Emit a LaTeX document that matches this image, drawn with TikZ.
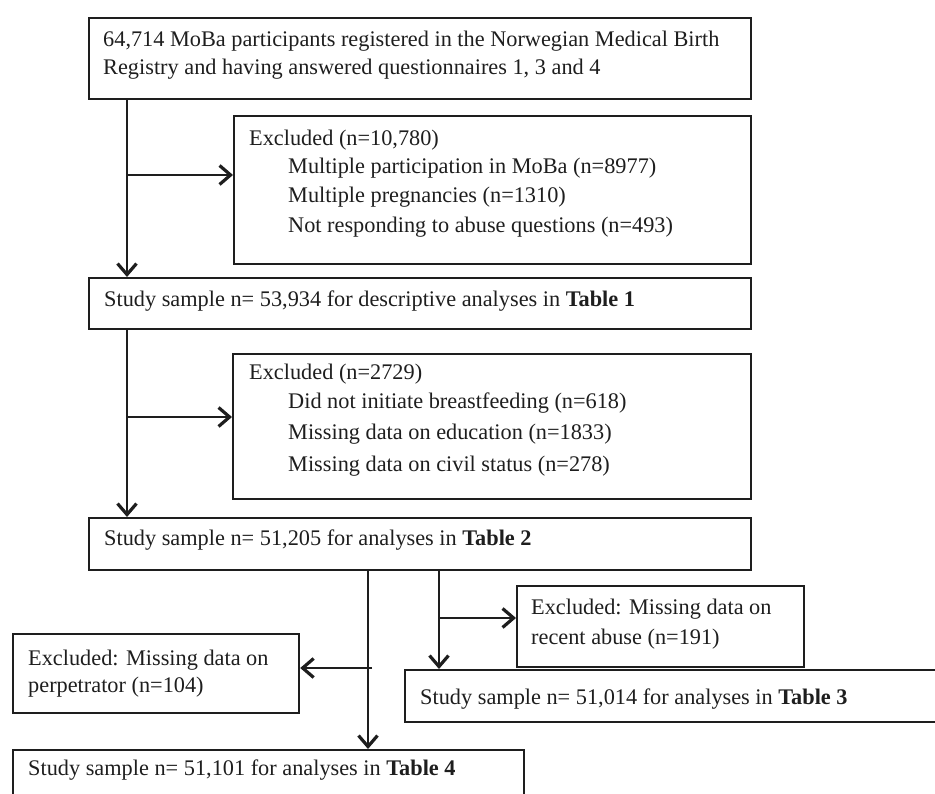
\documentclass[tikz,border=0pt]{standalone}
\usepackage{fontspec}
\setmainfont{Liberation Serif}
\usetikzlibrary{arrows.meta}
\definecolor{ink}{HTML}{1E1E1E}
\tikzset{
  box/.style={draw=ink, line width=2.2pt, rectangle, inner sep=0pt, anchor=north west},
  txt/.style={anchor=base west, inner sep=0pt, font=\fontsize{22.3}{26}\selectfont, text=ink},
  flow/.style={draw=ink, line width=2pt},
  arr/.style={flow, -{Straight Barb[length=11pt,width=19pt,line width=3.2pt]}},
}
\begin{document}
\begin{tikzpicture}[x=1pt,y=-1pt]
\useasboundingbox (0,0) rectangle (935,794);
\clip (0,0) rectangle (935,794);

% boxes
\node[box, minimum width=662pt, minimum height=81pt]  (b1) at (88,17)  {};
\node[box, minimum width=517pt, minimum height=148pt] (b2) at (233,115) {};
\node[box, minimum width=662pt, minimum height=51pt]  (b3) at (88,277) {};
\node[box, minimum width=518pt, minimum height=145pt] (b4) at (232,353) {};
\node[box, minimum width=662pt, minimum height=52pt]  (b5) at (88,517) {};
\node[box, minimum width=287pt, minimum height=81pt]  (b6) at (516,585) {};
\node[box, minimum width=286pt, minimum height=79pt]  (b7) at (12,633) {};
\node[box, minimum width=540pt, minimum height=52pt]  (b8) at (404,669) {};
\node[box, minimum width=511pt, minimum height=60pt]  (b9) at (12,749) {};

% texts
\node[txt] (t1a) at (103,47) {64,714 MoBa participants registered in the Norwegian Medical Birth};
\node[txt] (t1b) at (103,75) {Registry and having answered questionnaires 1, 3 and 4};

\node[txt] (t2a) at (249,146) {Excluded (n=10,780)};
\node[txt] (t2b) at (288,174) {Multiple participation in MoBa (n=8977)};
\node[txt] (t2c) at (288,203) {Multiple pregnancies (n=1310)};
\node[txt] (t2d) at (288,233) {Not responding to abuse questions (n=493)};

\node[txt] (t3) at (104,307) {Study sample n= 53,934 for descriptive analyses in \textbf{Table 1}};

\node[txt] (t4a) at (249,380) {Excluded (n=2729)};
\node[txt] (t4b) at (288,409) {Did not initiate breastfeeding (n=618)};
\node[txt] (t4c) at (288,439) {Missing data on education (n=1833)};
\node[txt] (t4d) at (288,471) {Missing data on civil status (n=278)};

\node[txt] (t5) at (104,545) {Study sample n= 51,205 for analyses in \textbf{Table 2}};

\node[txt] (t6a) at (531,614) {Excluded: Missing data on};
\node[txt] (t6b) at (531,644) {recent abuse (n=191)};

\node[txt] (t7a) at (28,665) {Excluded: Missing data on};
\node[txt] (t7b) at (28,692) {perpetrator (n=104)};

\node[txt] (t8) at (420,704) {Study sample n= 51,014 for analyses in \textbf{Table 3}};

\node[txt] (t9) at (28,775) {Study sample n= 51,101 for analyses in \textbf{Table 4}};

% junctions of the flow lines
\coordinate (c1) at (127,175);
\coordinate (c2) at (127,417);
\coordinate (ca) at (368,668);
\coordinate (cb) at (439,618);

% connectors
\draw[arr] (c1 |- b1.south) -- (c1 |- b3.north);
\draw[arr] (c1) -- (c1 -| b2.west);
\draw[arr] (c2 |- b3.south) -- (c2 |- b5.north);
\draw[arr] (c2) -- (c2 -| b4.west);
\draw[arr] (ca |- b5.south) -- (ca |- b9.north);
\draw[arr] ([xshift=4pt]ca) -- (ca -| b7.east);
\draw[arr] (cb |- b5.south) -- (cb |- b8.north);
\draw[arr] (cb) -- (cb -| b6.west);
\end{tikzpicture}
\end{document}
